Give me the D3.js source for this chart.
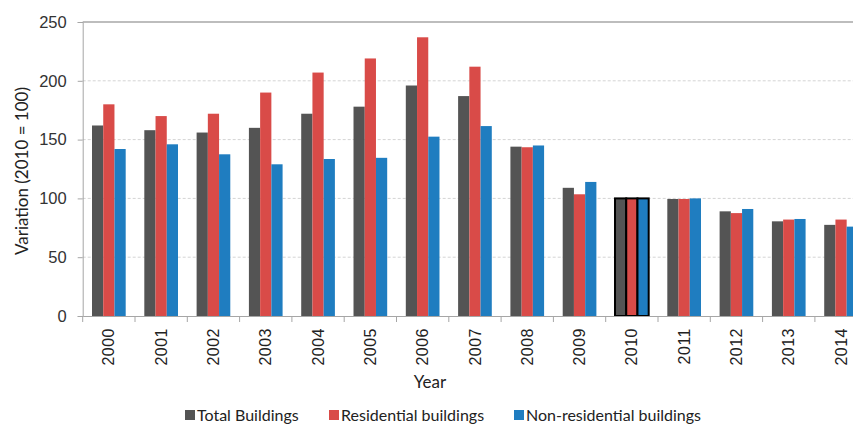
<!DOCTYPE html>
<html><head><meta charset="utf-8">
<script src="https://cdn.jsdelivr.net/npm/d3@7"></script>
<style>body{margin:0;background:#fff}svg{display:block;font-family:Lato,"Open Sans",sans-serif}</style>
</head><body><svg id="c" width="853" height="427"></svg>
<script>
const years = ["2000","2001","2002","2003","2004","2005","2006","2007","2008","2009","2010","2011","2012","2013","2014"];
const seriesNames = ["Total Buildings","Residential buildings","Non-residential buildings"];
const total = [162,158,156,160,172,178,196,187,144,109,100,99.5,89,80.5,77.5];
const residential = [180,170,172,190,207,219,237,212,143.5,103.5,100,99.5,87.5,82,82];
const nonResidential = [142,146,137.5,129,133.5,134.5,152.5,161.5,145,114,100,100,91,82.5,76];
const yTicks = [0,50,100,150,200,250];
const colors = ["#545454","#d94b48","#1f7dc0"];
const highlightYear = "2010";

const svg = d3.select("#c");
const y0 = 316, yTop = 22, xLeft = 82.7, band = 52.3;
const x = d3.scaleBand().domain(years).range([xLeft, xLeft + band*years.length]).padding(0);
const x1 = d3.scaleBand().domain(seriesNames).range([band*0.178, band*0.822]).padding(0);
const y = d3.scaleLinear().domain([0,250]).range([y0, yTop]);
const data = [total, residential, nonResidential];

// gridlines
svg.append("g").selectAll("line").data(yTicks.filter(t=>t>0)).join("line")
  .attr("x1", xLeft).attr("x2", 853).attr("y1", d=>y(d)).attr("y2", d=>y(d))
  .attr("stroke", d=>d===250?"#bdbdbd":"#d4d4d4")
  .attr("stroke-width", d=>d===250?2:1)
  .attr("stroke-dasharray", d=>d===250?null:"3,2");

// y axis
const yAxis = svg.append("g").attr("transform",`translate(${xLeft},0)`)
  .call(d3.axisLeft(y).tickValues(yTicks).tickSize(5).tickPadding(11));
yAxis.select(".domain").attr("stroke","#a6a6a6");
yAxis.selectAll(".tick line").attr("stroke","#a6a6a6");
yAxis.selectAll("text").attr("font-size",16.5).attr("fill","#333");

// bars
const groups = svg.append("g").selectAll("g").data(years).join("g")
  .attr("transform", d=>`translate(${x(d)},0)`);
groups.selectAll("rect").data((yr,i)=>seriesNames.map((s,j)=>({s, j, yr, v:data[j][i]}))).join("rect")
  .attr("x", d=>x1(d.s)).attr("width", x1.bandwidth())
  .attr("y", d=>y(d.v)).attr("height", d=>y0 - y(d.v))
  .attr("fill", d=>colors[d.j])
  .attr("stroke", d=>d.yr===highlightYear?"#000":"none")
  .attr("stroke-width", 2);

// x axis
const xAxis = svg.append("g").attr("transform",`translate(0,${y0})`)
  .call(d3.axisBottom(x).tickSize(0).tickPadding(0));
xAxis.select(".domain").attr("stroke","#a6a6a6");
xAxis.selectAll(".tick text").attr("font-size",16).attr("fill","#222")
  .attr("letter-spacing","0.5px")
  .attr("transform","rotate(-90)").attr("text-anchor","end")
  .attr("x",-12).attr("y",0).attr("dy","0.35em");
svg.append("g").selectAll("line").data(d3.range(years.length+1)).join("line")
  .attr("x1", i=>xLeft+band*i).attr("x2", i=>xLeft+band*i)
  .attr("y1", y0).attr("y2", y0+6).attr("stroke","#a6a6a6");

// axis titles
svg.append("text").attr("x",430).attr("y",388).attr("text-anchor","middle")
  .attr("font-size",17).attr("fill","#222").text("Year");
svg.append("text").attr("transform",`translate(28,${(y0+yTop)/2+2}) rotate(-90)`)
  .attr("text-anchor","middle").attr("font-size",17).attr("fill","#222").text("Variation (2010 = 100)");

// legend
const legendX = [185, 329, 514];
const lg = svg.append("g").selectAll("g").data(seriesNames).join("g")
  .attr("transform",(d,i)=>`translate(${legendX[i]},421)`);
lg.append("rect").attr("x",0).attr("y",-11).attr("width",10).attr("height",10).attr("fill",(d,i)=>colors[i]);
lg.append("text").attr("x",12).attr("y",0).attr("font-size",16).attr("fill","#222").text(d=>d);
</script></body></html>
